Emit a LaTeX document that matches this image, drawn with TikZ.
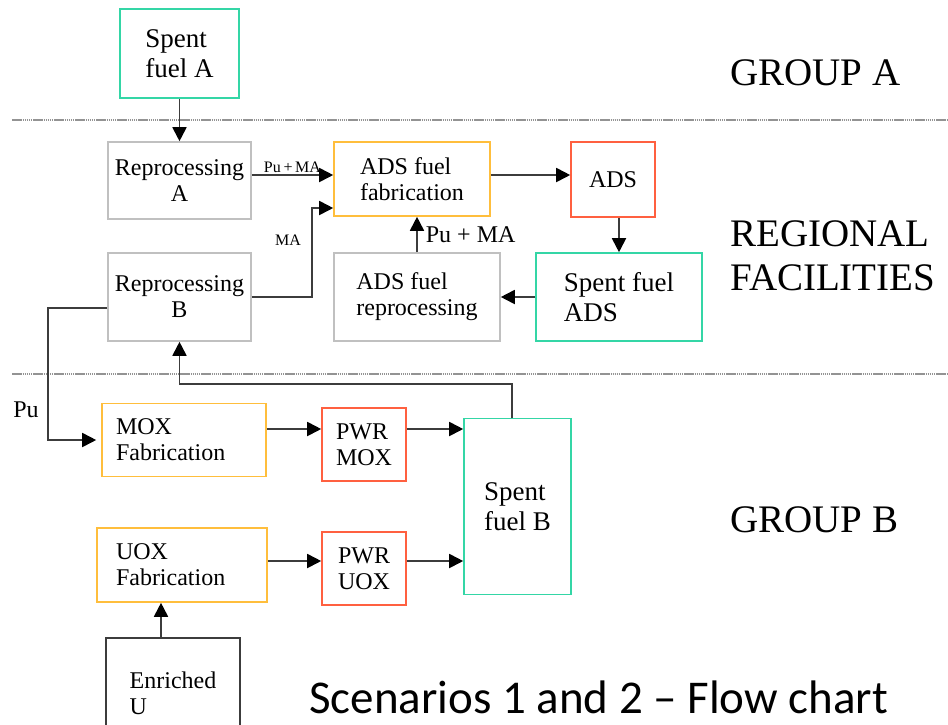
\documentclass[tikz,border=0pt]{standalone}
\usepackage{fontspec}
\setmainfont{Liberation Serif}
\newfontfamily\captfont{Carlito}
\usetikzlibrary{arrows.meta, positioning}
\definecolor{SpentGreen}{RGB}{52,214,166}
\definecolor{FabOrange}{RGB}{255,190,60}
\definecolor{ReactorRed}{RGB}{255,96,64}
\definecolor{PlantGray}{RGB}{192,192,192}
\definecolor{LineGray}{RGB}{60,60,60}

\tikzset{
  box/.style={draw, line width=1.6pt, inner sep=0pt, align=left, font=\fontsize{24}{26}\selectfont},
  fuel/.style={box, draw=SpentGreen, font=\fontsize{27}{30}\selectfont},
  fab/.style={box, draw=FabOrange},
  reactor/.style={box, draw=ReactorRed},
  plant/.style={box, draw=PlantGray, align=center},
  arr/.style={draw=LineGray, line width=1.8pt, -{Triangle[length=14pt, width=14pt, color=black]}},
  zone/.style={draw=gray!85, line width=2.2pt, dash pattern=on 1.5pt off 0.6pt},
  grp/.style={font=\fontsize{39}{43.5}\selectfont, inner sep=0pt, anchor=west, align=left},
  lbl/.style={font=\fontsize{16}{18}\selectfont, inner sep=1pt}
}

\begin{document}
\begin{tikzpicture}[x=1pt, y=-1pt]
  \clip (0,0) rectangle (948,724);
  \def\rowPA{175} \def\rowMA{208} \def\rowPu{308}
  \def\rowM{429} \def\rowU{561}

  % group boundaries
  \draw[zone] (12,120) -- (948,120);
  \draw[zone] (12,374) -- (948,374);

  \node[fuel, minimum width=119pt, minimum height=89pt] (sfA) at (179.5,53.5) {Spent\\fuel A};
  \node[plant, minimum width=143pt, minimum height=77pt] (repA) at (179.5,180.5) {Reprocessing\\A};
  \node[fab, minimum width=156pt, minimum height=74pt] (adsfab) at (412,179) {ADS fuel\\fabrication};
  \node[reactor, minimum width=84pt, minimum height=75pt] (ads) at (613,179.5) {ADS};
  \node[plant, minimum width=143pt, minimum height=88pt] (repB) at (179.5,297) {Reprocessing\\B};
  \node[plant, align=left, minimum width=166pt, minimum height=88pt] (adsrep) at (417,297) {ADS fuel\\reprocessing};
  \node[fuel, minimum width=166pt, minimum height=88pt] (sfADS) at (619,297) {Spent fuel\\ADS};

  \node[fab, text width=136pt, inner xsep=14pt, minimum height=73pt] (mox) at (184,440) {MOX\\Fabrication};
  \node[reactor, minimum width=84pt, minimum height=73pt] (pwrmox) at (364,444.5) {PWR\\MOX};
  \node[fuel, minimum width=107pt, minimum height=176pt] (sfB) at (517.5,506.5) {Spent\\fuel B};
  \node[fab, text width=132pt, inner xsep=19pt, minimum height=74pt] (uox) at (182,565) {UOX\\Fabrication};
  \node[reactor, minimum width=84pt, minimum height=73pt] (pwruox) at (364,568.5) {PWR\\UOX};
  \node[box, draw=LineGray, minimum width=134pt, minimum height=110pt] (enrU) at (173,693) {Enriched\\U};

  \node[grp] (grpA) at (730,73) {GROUP A};
  \node[grp] (grpR) at (730,256) {REGIONAL\\FACILITIES};
  \node[grp] (grpB) at (730,520) {GROUP B};
  \node[anchor=base west, inner sep=0pt, text depth=0pt, font=\captfont\fontsize{47}{50}\selectfont] (capt) at (309,713) {Scenarios 1 and 2 – Flow chart};

  \draw[arr] (sfA) -- (repA);
  \draw[arr] (repA.east |- 0,\rowPA) -- (adsfab.west |- 0,\rowPA) node[lbl, midway, above] (lblPA) {Pu\,+\,MA};
  \draw[arr] (repB.east) -- ++(60,0) |- (adsfab.west |- 0,\rowMA);
  \node[lbl] (lblMA) at (288,240) {MA};
  \draw[arr] (adsfab.east |- 0,\rowPA) -- (ads.west |- 0,\rowPA);
  \draw[arr] (ads.south -| sfADS.north) -- (sfADS.north);
  \draw[arr] (sfADS.west) -- (adsrep.east);
  \draw[arr] (adsrep.north) -- (adsrep.north |- adsfab.south) node[midway, right=8pt, font=\fontsize{24}{26}\selectfont, inner sep=0pt] (lblPM) {Pu + MA};
  \draw[arr, shorten >=5pt] (repB.west |- 0,\rowPu) -- ++(-59,0) |- (mox.west);
  \node[inner sep=0pt, font=\fontsize{24}{26}\selectfont] (lblPu) at (26,410) {Pu};
  \draw[arr] ([xshift=-5.5pt]sfB.north) -- ++(0,-34) -| (repB.south);
  \draw[arr] (mox.east |- 0,\rowM) -- (pwrmox.west |- 0,\rowM);
  \draw[arr] (pwrmox.east |- 0,\rowM) -- (sfB.west |- 0,\rowM);
  \draw[arr] (uox.east |- 0,\rowU) -- (pwruox.west |- 0,\rowU);
  \draw[arr] (pwruox.east |- 0,\rowU) -- (sfB.west |- 0,\rowU);
  \draw[arr] (enrU.north -| 161,0) -- (uox.south -| 161,0);
\end{tikzpicture}
\end{document}
